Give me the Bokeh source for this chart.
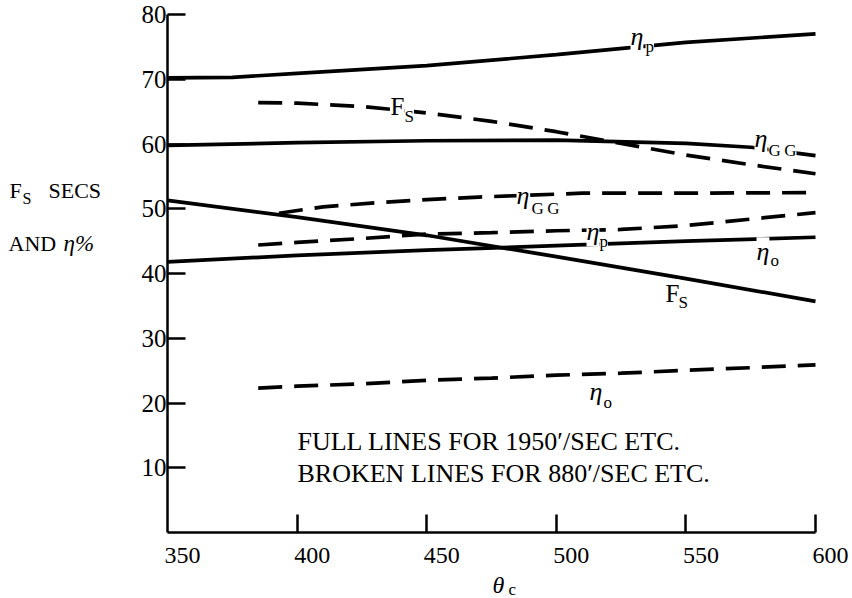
from bokeh.plotting import figure
from bokeh.layouts import row, column
from bokeh.models import Label, FixedTicker, Range1d
from bokeh.embed import file_html
from bokeh.resources import INLINE

# ---- data: full lines (1950 ft/sec) ----
theta_full = [350, 375, 400, 450, 500, 550, 600]
eta_p_full = [70.2, 70.3, 70.9, 72.1, 73.8, 75.7, 77.0]

theta_gg_full = [350, 400, 450, 500, 550, 575, 600]
eta_gg_full = [59.8, 60.2, 60.5, 60.6, 60.1, 59.5, 58.2]

theta_fs_full = [350, 400, 450, 500, 550, 600]
fs_full = [51.3, 48.7, 45.9, 42.6, 39.2, 35.7]

theta_eo_full = [350, 400, 450, 500, 550, 600]
eta_o_full = [41.8, 42.8, 43.6, 44.3, 45.0, 45.6]

# ---- data: broken lines (880 ft/sec) ----
theta_fs_brk = [385, 400, 425, 450, 475, 500, 525, 550, 575, 600]
fs_brk = [66.4, 66.3, 65.8, 64.8, 63.5, 61.9, 60.1, 58.3, 56.8, 55.4]

theta_gg_brk = [393, 410, 430, 450, 470, 490, 510, 550, 600]
eta_gg_brk = [49.3, 50.3, 50.9, 51.4, 51.8, 52.1, 52.4, 52.4, 52.5]

theta_ep_brk = [385, 400, 425, 450, 475, 500, 525, 550, 575, 600]
eta_p_brk = [44.4, 44.8, 45.4, 46.1, 46.3, 46.6, 46.8, 47.4, 48.4, 49.4]

theta_eo_brk = [385, 400, 425, 450, 475, 500, 525, 550, 575, 600]
eta_o_brk = [22.3, 22.6, 22.95, 23.5, 23.85, 24.3, 24.6, 25.05, 25.45, 25.9]

x_ticks = [400, 450, 500, 550, 600]
x_tick_labels = [350, 400, 450, 500, 550, 600]
y_ticks = [10, 20, 30, 40, 50, 60, 70, 80]

FONT = "Liberation Serif"

# page geometry in pixels
W, H = 852, 598
SIDE_W = 120                      # strip holding the vertical-axis title
LEFT, RIGHT, TOP, BOTTOM = 167, 815, 14, 532
MAIN_H = 536                      # main figure height; below it sits the θ strip
X0, X1, Y0, Y1 = 350, 600, 0, 80
XSCALE = (RIGHT - LEFT) / (X1 - X0)
X_END = X0 + (W - LEFT) / XSCALE  # frame runs to the page edge; the spine stops at 600
LABEL_SHIFT = 5.8                 # tick numbers sit a little to the right of their ticks
BASE_LIFT = 0.3                   # labels anchor a bit below their baseline; lift by this many ems


def to_data(px, py):
    """Convert a page pixel position into main-plot data coordinates."""
    x = X0 + (px - LEFT) / XSCALE
    y = Y0 + (BOTTOM - py) * (Y1 - Y0) / (BOTTOM - TOP)
    return x, y


def bare(fig):
    fig.outline_line_color = None
    fig.grid.visible = False
    fig.background_fill_color = "white"
    fig.border_fill_color = "white"


def text_label(fig, text, x, y, size, italic=False, bg=False, y_units="data"):
    lab = Label(x=x, y=y, y_units=y_units, text=text, text_font=FONT,
                text_font_size=f"{size}px",
                text_font_style="italic" if italic else "normal",
                text_color="black", text_align="left", text_baseline="alphabetic")
    if bg:
        lab.background_fill_color = "white"
    fig.add_layout(lab)


# ---------------- main plot ----------------
p = figure(width=W - SIDE_W, height=MAIN_H, x_range=(X0, X_END), y_range=(Y0, Y1),
           output_backend="svg", toolbar_location=None,
           min_border_left=LEFT - SIDE_W, min_border_right=0,
           min_border_top=TOP, min_border_bottom=MAIN_H - BOTTOM)
bare(p)

for ax in (p.xaxis[0], p.yaxis[0]):
    ax.axis_line_width = 2.5
    ax.axis_line_color = "black"
    ax.major_tick_line_width = 2.5
    ax.major_tick_line_color = "black"
    ax.major_tick_in = 18
    ax.major_tick_out = 0
    ax.minor_tick_line_color = None
    ax.major_label_text_font = FONT
    ax.major_label_text_color = "black"

# bottom spine carries only the tick marks; its numbers are set in the strip below
p.xaxis.bounds = (X0, X1)
p.xaxis.ticker = FixedTicker(ticks=x_ticks)
p.xaxis.major_label_overrides = {t: "" for t in x_ticks}
p.xaxis.major_label_text_font_size = "1px"
p.xaxis.major_label_standoff = 0

p.yaxis.ticker = FixedTicker(ticks=y_ticks)
p.yaxis.major_label_text_font_size = "25px"
p.yaxis.major_label_standoff = 1

LW = 3.7
DASH = "24 12"

p.line(theta_full, eta_p_full, line_width=LW, color="black")
p.line(theta_gg_full, eta_gg_full, line_width=LW, color="black")
p.line(theta_fs_full, fs_full, line_width=LW, color="black")
p.line(theta_eo_full, eta_o_full, line_width=LW, color="black")

p.line(theta_fs_brk, fs_brk, line_width=LW, color="black", line_dash=DASH)
p.line(theta_gg_brk, eta_gg_brk, line_width=LW, color="black", line_dash=DASH)
p.line(theta_ep_brk, eta_p_brk, line_width=LW, color="black", line_dash=DASH)
p.line(theta_eo_brk, eta_o_brk, line_width=LW, color="black", line_dash=DASH)


def put(text, px, py, size, italic=False, bg=False):
    x, y = to_data(px, py - BASE_LIFT * size)
    text_label(p, text, x, y, size, italic=italic, bg=bg)


def curve_label(main, sub, px, py, sub_px, sub_py, italic=True, size=26, sub_size=17):
    put(main, px, py, size, italic=italic, bg=True)
    put(sub, sub_px, sub_py, sub_size, bg=True)


# curve names
curve_label("η", "p", 630, 44, 645, 51)
curve_label("F", "S", 390, 113, 404, 121, italic=False, size=25)
curve_label("η", "G\u2009G", 754, 146, 768, 155)
curve_label("η", "G\u2009G", 516, 203, 531, 213)
curve_label("η", "p", 586, 239, 599, 246)
curve_label("η", "o", 756, 259, 770, 265)
curve_label("F", "S", 665, 300, 678, 307, italic=False, size=25)
curve_label("η", "o", 589, 399, 603, 407)

# note about the two families of lines
put("FULL LINES FOR 1950\u2032/SEC ETC.", 297, 449, 26)
put("BROKEN LINES FOR 880\u2032/SEC ETC.", 297, 481, 26)

# ---------------- left strip: vertical-axis title ----------------
side = figure(width=SIDE_W, height=H, x_range=(0, SIDE_W), y_range=Range1d(H, TOP),
              x_axis_type=None, y_axis_type=None, output_backend="svg",
              toolbar_location=None, min_border=0, min_border_top=TOP)
bare(side)


def side_put(text, px, py, size, italic=False):
    text_label(side, text, px, py - BASE_LIFT * size, size, italic=italic)


side_put("F", 9, 197, 22)
side_put("S", 22, 203, 16)
side_put("SECS", 48, 197, 22)
side_put("AND", 8, 250, 22)
side_put("η%", 63, 250, 23, italic=True)

# ---------------- bottom strip: tick numbers and θc ----------------
bx0 = X0 - LABEL_SHIFT
bx1 = bx0 + (W - LEFT) / XSCALE
strip = figure(width=W - SIDE_W, height=H - MAIN_H, x_range=(bx0, bx1), y_range=(0, 1),
               x_axis_location="above", y_axis_type=None, output_backend="svg",
               toolbar_location=None, min_border_left=LEFT - SIDE_W,
               min_border_right=0, min_border_top=26, min_border_bottom=0)
bare(strip)
num_ax = strip.xaxis[0]
num_ax.ticker = FixedTicker(ticks=x_tick_labels)
num_ax.axis_line_color = None
num_ax.major_tick_line_color = None
num_ax.minor_tick_line_color = None
num_ax.major_tick_in = 0
num_ax.major_tick_out = 0
num_ax.major_label_standoff = 0
num_ax.major_label_text_font = FONT
num_ax.major_label_text_font_size = "24px"
num_ax.major_label_text_color = "black"


def bx(px):
    return bx0 + (px - LEFT) / XSCALE


# θc, measured in pixels up from the bottom of the page
text_label(strip, "θ", bx(492), H - (592 - BASE_LIFT * 24), 24, italic=True,
           y_units="screen")
text_label(strip, "c", bx(508), H - (594 - BASE_LIFT * 17), 17, y_units="screen")

layout = row(side, column(p, strip, spacing=0), spacing=0)

open("out.html", "w").write(file_html(layout, INLINE))
